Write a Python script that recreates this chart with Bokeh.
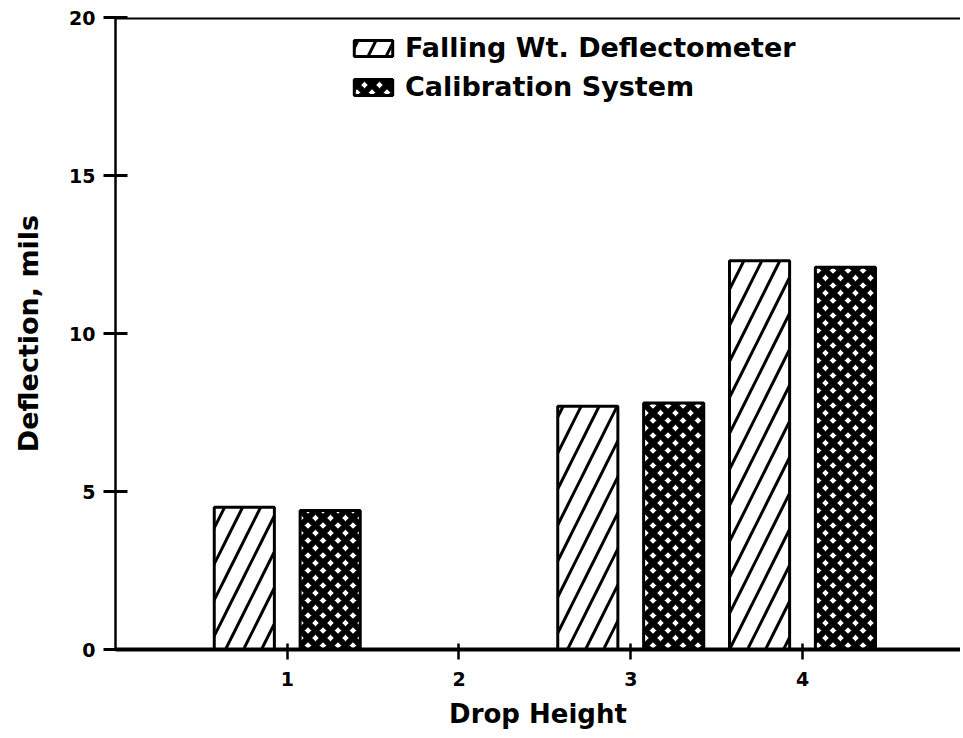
from bokeh.plotting import figure
from bokeh.models import ColumnDataSource, Span, Legend, LegendItem, FixedTicker, Range1d
from bokeh.transform import dodge
from bokeh.embed import file_html
from bokeh.resources import INLINE

drop_height = [1, 3, 4]
fwd_deflection = [4.5, 7.7, 12.3]
cal_deflection = [4.4, 7.8, 12.1]
x_ticks = [1, 2, 3, 4]
y_ticks = [0, 5, 10, 15, 20]
series_names = ["Falling Wt. Deflectometer", "Calibration System"]

FONT = "DejaVu Sans"

src = ColumnDataSource(dict(x=drop_height, fwd=fwd_deflection, cal=cal_deflection))

p = figure(width=960, height=736, output_backend="svg", toolbar_location=None,
           x_range=Range1d(0, 4.92), y_range=Range1d(0, 20),
           min_border_left=115, min_border_top=17, min_border_right=0, min_border_bottom=87)
p.outline_line_color = None
p.grid.grid_line_color = None

r1 = p.vbar(x=dodge("x", -0.25), top="fwd", width=0.35, source=src,
            fill_color="white", line_color="black", line_width=3,
            hatch_pattern="/", hatch_color="black", hatch_weight=3, hatch_scale=36)
r2 = p.vbar(x=dodge("x", 0.25), top="cal", width=0.35, source=src,
            fill_color="white", line_color="black", line_width=3,
            hatch_pattern="x", hatch_color="black", hatch_weight=6, hatch_scale=15)

p.add_layout(Span(location=20, dimension="width", line_color="black", line_width=4))

xa = p.xaxis[0]
xa.ticker = FixedTicker(ticks=x_ticks)
xa.axis_line_width = 4
xa.major_tick_line_width = 2.5
xa.major_tick_in = 6
xa.major_tick_out = 10
xa.minor_tick_line_color = None
xa.major_label_standoff = 12
xa.major_label_text_font = FONT
xa.major_label_text_font_style = "bold"
xa.major_label_text_font_size = "19px"
xa.major_label_text_color = "black"
xa.axis_label = "Drop Height"
xa.axis_label_text_font = FONT
xa.axis_label_text_font_style = "bold"
xa.axis_label_text_font_size = "26px"
xa.axis_label_text_color = "black"
xa.axis_label_standoff = 10

ya = p.yaxis[0]
ya.ticker = FixedTicker(ticks=y_ticks)
ya.axis_line_width = 2.5
ya.major_tick_line_width = 3
ya.major_tick_in = 12
ya.major_tick_out = 12
ya.minor_tick_line_color = None
ya.major_label_standoff = 8
ya.major_label_text_font = FONT
ya.major_label_text_font_style = "bold"
ya.major_label_text_font_size = "19px"
ya.major_label_text_color = "black"
ya.axis_label = "Deflection, mils"
ya.axis_label_text_font = FONT
ya.axis_label_text_font_style = "bold"
ya.axis_label_text_font_size = "27px"
ya.axis_label_text_color = "black"
ya.axis_label_standoff = 22

legend = Legend(items=[LegendItem(label=series_names[0], renderers=[r1]),
                       LegendItem(label=series_names[1], renderers=[r2])],
                location=(234, 547))
legend.border_line_color = None
legend.background_fill_alpha = 0
legend.glyph_width = 48
legend.glyph_height = 20
legend.label_text_font = FONT
legend.label_text_font_style = "bold"
legend.label_text_font_size = "27px"
legend.label_text_color = "black"
legend.spacing = 8
legend.padding = 0
legend.margin = 0
legend.label_standoff = 8
p.add_layout(legend)

open("out.html", "w").write(file_html(p, INLINE))
